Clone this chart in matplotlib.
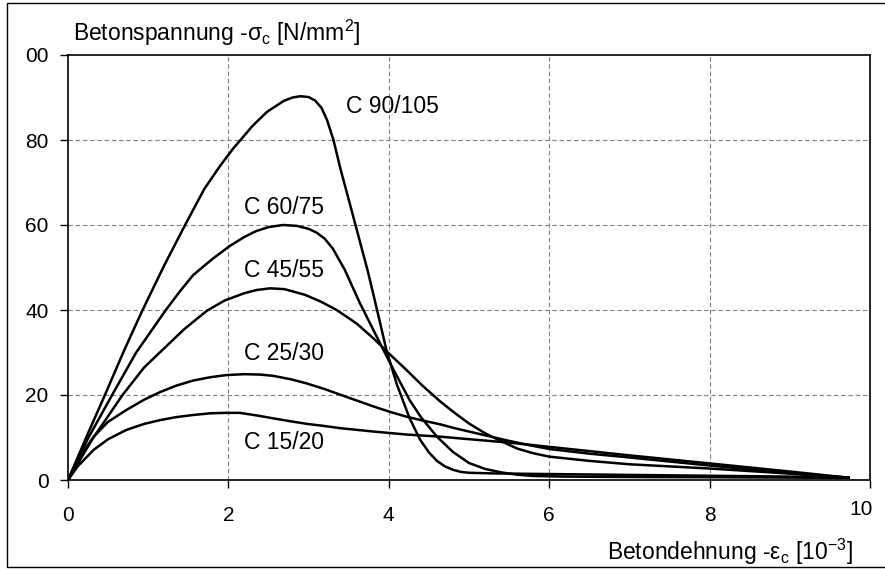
import matplotlib
matplotlib.use("Agg")
import matplotlib.pyplot as plt
from matplotlib.patches import Rectangle
from matplotlib.transforms import ScaledTranslation

plt.rcParams['font.family'] = ['Liberation Sans', 'DejaVu Sans']
plt.rcParams['mathtext.fontset'] = 'custom'
plt.rcParams['mathtext.rm'] = 'Liberation Sans'
plt.rcParams['mathtext.it'] = 'Liberation Sans'
plt.rcParams['mathtext.default'] = 'regular'

# stress-strain curves (strain in 1e-3, stress in N/mm2)
eps_c90 = [0, 0.25, 0.46, 0.7, 0.93, 1.2, 1.46, 1.7, 1.9, 2.06, 2.3, 2.48, 2.69, 2.8, 2.9, 3.0, 3.08, 3.16, 3.23, 3.31,
           3.4, 3.5, 3.62, 3.74, 3.86, 3.97, 4.1, 4.26, 4.39, 4.5, 4.6, 4.7, 4.8, 4.9, 5.0, 5.3, 6.0, 7.0, 8.0, 9.0, 9.73]
sig_c90 = [0, 11, 20, 30.5, 40, 50.5, 60, 68.5, 74, 78, 83.3, 86.6, 89.2, 90, 90.3, 90.1, 89.3, 87.6, 84.7, 80,
           73, 66, 57.5, 49, 39.5, 30.6, 22.5, 14.5, 9.5, 6.5, 4.5, 3.2, 2.4, 1.9, 1.7, 1.55, 1.4, 1.2, 1.0, 0.8, 0.55]

eps_c60 = [0, 0.25, 0.55, 0.85, 1.22, 1.4, 1.56, 1.8, 2.02, 2.2, 2.35, 2.5, 2.68, 2.85, 3.0, 3.1, 3.2, 3.3, 3.45,
           3.64, 3.85, 4.06, 4.26, 4.4, 4.6, 4.8, 5.0, 5.2, 5.4, 5.6, 5.8, 6.2, 7.0, 8.0, 9.73]
sig_c60 = [0, 9.8, 20, 30, 40, 44.5, 48.2, 52, 55.1, 57.2, 58.6, 59.5, 60, 59.8, 59.1, 58.2, 56.8, 54.5, 49.5,
           41.6, 33.7, 25.9, 18.8, 14.8, 10.2, 6.6, 4.0, 2.6, 1.8, 1.25, 0.95, 0.8, 0.7, 0.65, 0.5]

eps_c45 = [0, 0.3, 0.68, 0.95, 1.2, 1.45, 1.73, 1.95, 2.19, 2.35, 2.52, 2.7, 2.95, 3.15, 3.35, 3.6, 3.81, 4.0,
           4.22, 4.42, 4.64, 4.82, 5.0, 5.2, 5.35, 5.6, 5.8, 6.0, 6.5, 7.0, 8.0, 9.0, 9.73]
sig_c45 = [0, 9.5, 20, 26.5, 31, 35.5, 39.8, 42.2, 43.9, 44.7, 45.1, 44.9, 43.6, 42, 40, 36.8, 33.3, 29.8,
           25.9, 22.2, 18.5, 15.8, 13.3, 11, 9.6, 7.4, 6.3, 5.5, 4.5, 3.7, 2.7, 1.5, 0.55]

eps_c25 = [0, 0.15, 0.32, 0.5, 0.73, 0.95, 1.15, 1.35, 1.56, 1.78, 1.98, 2.2, 2.4, 2.56, 2.78, 2.98, 3.2, 3.39,
           3.6, 3.81, 4.02, 4.22, 4.42, 4.64, 4.82, 5.0, 5.25, 5.5, 5.75, 6.0, 6.5, 7.0, 8.0, 9.0, 9.73]
sig_c25 = [0, 5.5, 10.2, 13.7, 16.5, 18.9, 20.7, 22.2, 23.4, 24.2, 24.7, 24.9, 24.8, 24.5, 23.7, 22.7, 21.4, 20.1,
           18.7, 17.3, 16, 14.9, 14, 13.1, 12.2, 11.4, 10.3, 9.2, 8.2, 7.3, 6.2, 5.3, 3.4, 1.6, 0.55]

eps_c15 = [0, 0.12, 0.32, 0.5, 0.73, 0.95, 1.15, 1.35, 1.56, 1.78, 1.98, 2.14, 2.35, 2.56, 2.78, 2.98, 3.2, 3.39,
           3.6, 3.81, 4.22, 4.64, 5.0, 5.5, 6.0, 7.0, 8.0, 9.0, 9.73]
sig_c15 = [0, 3.2, 7.1, 9.6, 11.8, 13.2, 14.1, 14.8, 15.3, 15.7, 15.8, 15.8, 15.2, 14.5, 13.8, 13.2, 12.7, 12.2,
           11.8, 11.4, 10.7, 10.2, 9.6, 8.8, 7.8, 5.8, 3.9, 2.0, 0.55]

curve_names = ["C 90/105", "C 60/75", "C 45/55", "C 25/30", "C 15/20"]
xticks = [0, 2, 4, 6, 8, 10]
yticks = [0, 20, 40, 60, 80, 100]
ytick_labels = ["0", "20", "40", "60", "80", "00"]

# label anchor points (left edge, vertical centre) in data units
label_pos = [(3.47, 87.8), (2.19, 64.1), (2.19, 49.4), (2.19, 29.8), (2.19, 8.8)]

fig = plt.figure(figsize=(8.85, 5.69), dpi=100)
ax = fig.add_axes([68/885, 89/569, 802/885, 425/569])

curves = [(eps_c90, sig_c90), (eps_c60, sig_c60), (eps_c45, sig_c45),
          (eps_c25, sig_c25), (eps_c15, sig_c15)]
for (e, s), name, (lx, ly) in zip(curves, curve_names, label_pos):
    ax.plot(e, s, color='black', lw=1.8, solid_joinstyle='round', zorder=3)
    ax.text(lx, ly, name, fontsize=16.5, ha='left', va='center')

ax.set_xlim(0, 10)
ax.set_ylim(0, 100)
ax.set_xticks(xticks)
ax.set_yticks(yticks)
ax.set_yticklabels(ytick_labels)
ax.tick_params(axis='both', direction='out', length=6, width=1.0, labelsize=15, color='black')
ax.tick_params(axis='x', pad=13)
ax.tick_params(axis='y', pad=8)
for sp in ax.spines.values():
    sp.set_linewidth(1.2)
    sp.set_color('black')

# dashed grey grid, interior lines only
for xv in xticks[1:-1]:
    ax.axvline(xv, color='#808080', lw=0.8, dashes=(4, 2.5), zorder=1)
for yv in yticks[1:-1]:
    ax.axhline(yv, color='#808080', lw=0.8, dashes=(4, 2.5), zorder=1)

# the "10" label sits a bit higher and further left in the original
lab10 = ax.get_xticklabels()[-1]
lab10.set_transform(lab10.get_transform() + ScaledTranslation(-0.09, 0.06, fig.dpi_scale_trans))

ax.text(0.06, 105.2, 'Betonspannung -σ$_{c}$ [N/mm$^{2}$]', fontsize=16.5,
        ha='left', va='center', clip_on=False)
ax.text(9.79, -16.9, 'Betondehnung -ε$_{c}$ [10$^{-3}$]', fontsize=16.5,
        ha='right', va='center', clip_on=False)

# outer frame of the chart
fig.patches.append(Rectangle((7/885, 2/569), 879/885, 564/569, transform=fig.transFigure,
                             fill=False, edgecolor='black', lw=1.0))

fig.savefig('out.png', dpi=100)
